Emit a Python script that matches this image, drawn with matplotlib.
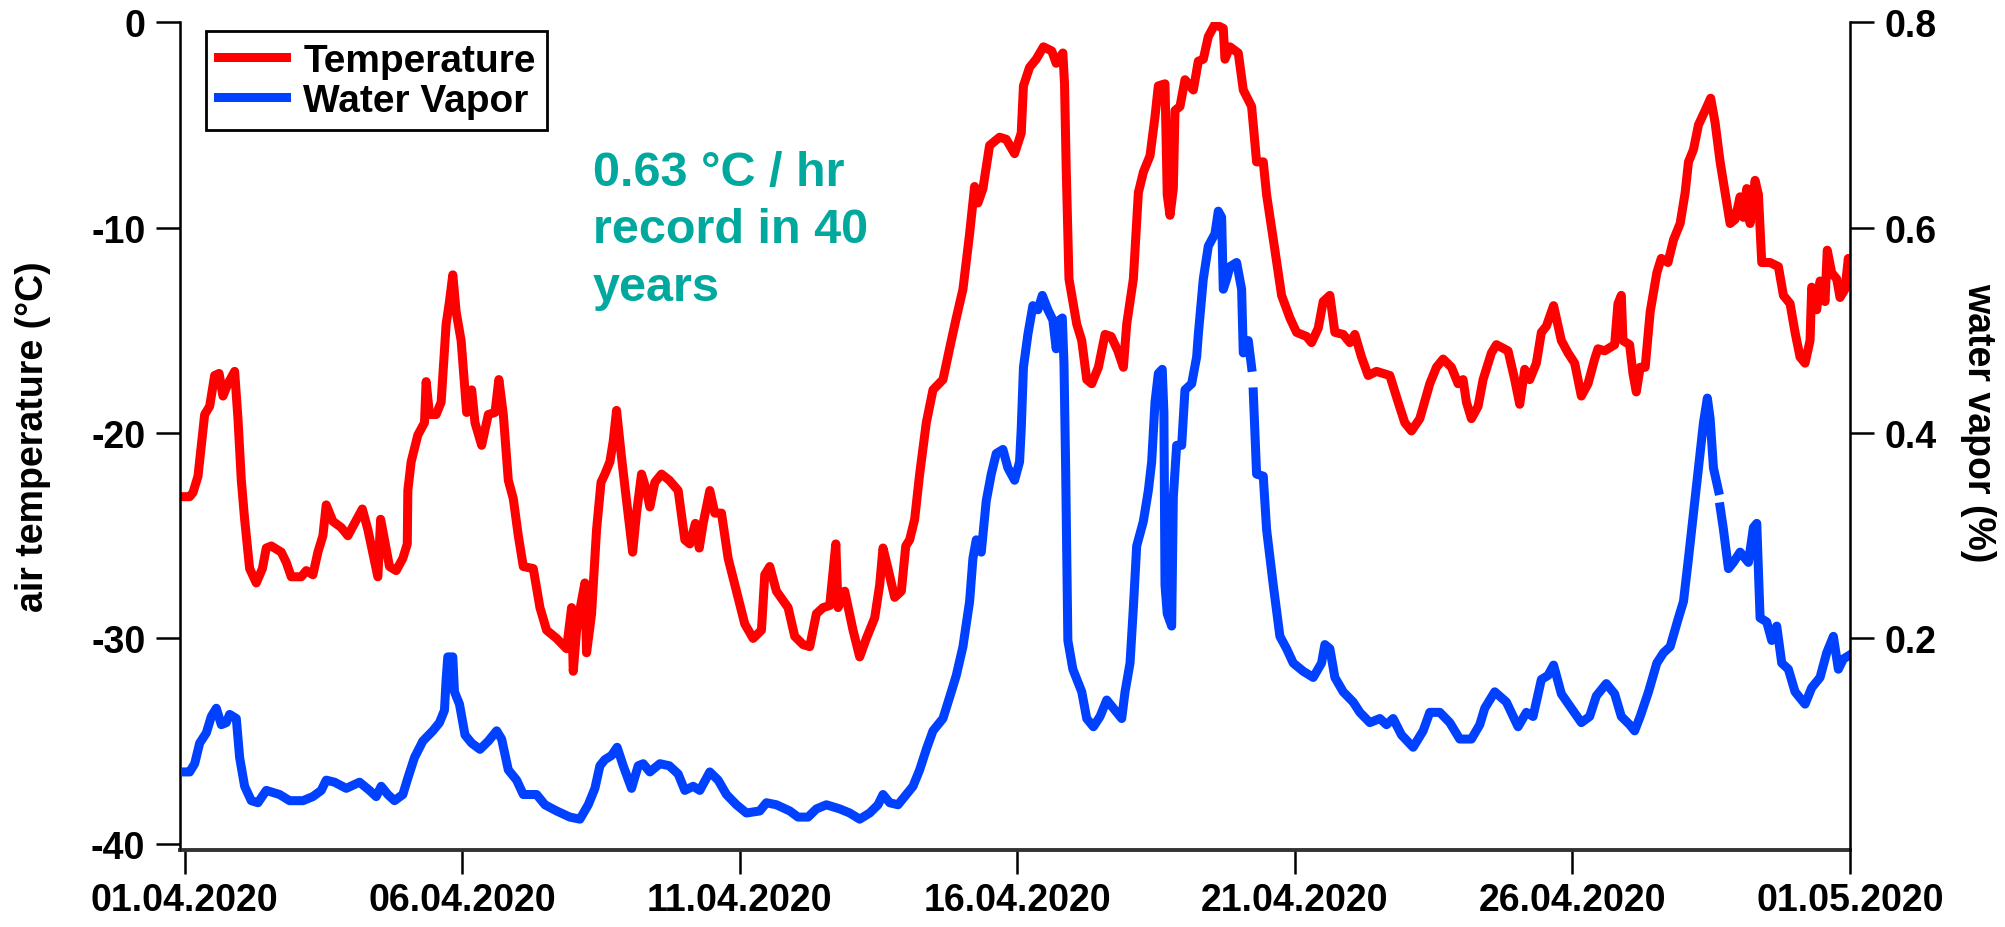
import numpy as np
import pandas as pd
import matplotlib
matplotlib.use("Agg")
import matplotlib.pyplot as plt
import matplotlib.dates as mdates

plt.rcParams['font.family'] = ['Liberation Sans', 'DejaVu Sans']
plt.rcParams['font.weight'] = 'bold'
plt.rcParams['axes.labelweight'] = 'bold'
plt.rcParams['axes.unicode_minus'] = False

start = pd.Timestamp('2020-04-01')

# air temperature (degC), days since 01.04.2020
temp_day = [0.00, 0.09, 0.15, 0.24, 0.30, 0.36, 0.45, 0.54, 0.62, 0.69, 0.78, 0.90, 0.96, 1.02, 1.08,
            1.17, 1.29, 1.40, 1.47, 1.56, 1.74, 1.83, 1.92, 2.10, 2.19, 2.31, 2.40, 2.49, 2.55, 2.67,
            2.82, 2.94, 3.06, 3.20, 3.30, 3.41, 3.48, 3.53, 3.60, 3.69, 3.81, 3.93, 4.01, 4.02, 4.08,
            4.20, 4.32, 4.35, 4.41, 4.53, 4.62, 4.71, 4.77, 4.83, 4.89, 4.98, 5.08, 5.17, 5.23, 5.35,
            5.47, 5.59, 5.66, 5.74, 5.83, 5.92, 6.01, 6.10, 6.28, 6.40, 6.52, 6.70, 6.88, 6.97, 7.00,
            7.06, 7.12, 7.21, 7.24, 7.33, 7.42, 7.50, 7.57, 7.66, 7.72, 7.78, 7.87, 7.96, 8.07, 8.14,
            8.23, 8.32, 8.38, 8.47, 8.59, 8.73, 8.89, 9.01, 9.10, 9.20, 9.27, 9.34, 9.46, 9.55, 9.67,
            9.79, 9.94, 10.09, 10.24, 10.39, 10.45, 10.54, 10.66, 10.87, 10.99, 11.14, 11.26, 11.38,
            11.50, 11.62, 11.73, 11.77, 11.89, 12.04, 12.16, 12.28, 12.43, 12.52, 12.58, 12.67, 12.79,
            12.91, 12.99, 13.06, 13.15, 13.24, 13.36, 13.48, 13.66, 13.81, 13.90, 14.02, 14.14, 14.23,
            14.29, 14.38, 14.50, 14.68, 14.80, 14.95, 15.07, 15.11, 15.22, 15.34, 15.47, 15.62, 15.70,
            15.82, 15.85, 15.88, 15.93, 16.07, 16.16, 16.25, 16.34, 16.46, 16.58, 16.69, 16.81, 16.91,
            16.97, 17.09, 17.18, 17.27, 17.39, 17.48, 17.54, 17.66, 17.70, 17.75, 17.81, 17.84, 17.93,
            18.02, 18.17, 18.26, 18.35, 18.44, 18.56, 18.71, 18.74, 18.83, 18.98, 19.07, 19.22, 19.31,
            19.43, 19.49, 19.64, 19.76, 19.91, 20.03, 20.21, 20.30, 20.42, 20.51, 20.63, 20.72, 20.87,
            20.99, 21.08, 21.20, 21.32, 21.47, 21.71, 21.86, 21.98, 22.10, 22.25, 22.43, 22.55, 22.67,
            22.82, 22.94, 23.03, 23.09, 23.18, 23.30, 23.39, 23.54, 23.63, 23.84, 23.96, 24.05, 24.14,
            24.23, 24.35, 24.44, 24.53, 24.66, 24.80, 24.92, 25.04, 25.16, 25.28, 25.40, 25.46, 25.58,
            25.76, 25.82, 25.88, 25.91, 26.03, 26.09, 26.15, 26.22, 26.31, 26.40, 26.52, 26.60, 26.72,
            26.82, 26.94, 27.03, 27.09, 27.18, 27.27, 27.39, 27.49, 27.57, 27.66, 27.75, 27.84, 27.93,
            28.02, 28.08, 28.14, 28.20, 28.29, 28.35, 28.41, 28.56, 28.71, 28.80, 28.92, 29.01, 29.10,
            29.19, 29.28, 29.31, 29.40, 29.46, 29.55, 29.59, 29.67, 29.76, 29.82, 29.91, 29.97, 30.00]
temp_c = [-23.1, -23.1, -22.9, -22.1, -20.6, -19.1, -18.7, -17.2, -17.1, -18.2, -17.6, -17.0, -19.3, -22.3, -24.2,
          -26.6, -27.3, -26.6, -25.6, -25.5, -25.8, -26.3, -27.0, -27.0, -26.7, -26.9, -25.8, -25.0, -23.5, -24.3,
          -24.6, -25.0, -24.4, -23.7, -24.7, -26.1, -27.0, -24.2, -25.2, -26.5, -26.7, -26.1, -25.4, -22.8, -21.4,
          -20.1, -19.5, -17.5, -19.1, -19.1, -18.5, -14.7, -13.6, -12.3, -14.1, -15.5, -19.0, -17.9, -19.5, -20.6,
          -19.1, -19.0, -17.4, -19.1, -22.3, -23.2, -25.0, -26.5, -26.6, -28.5, -29.6, -30.0, -30.5, -28.5, -31.6,
          -29.6, -28.6, -27.3, -30.7, -28.8, -24.7, -22.4, -22.0, -21.4, -20.4, -18.9, -21.2, -23.3, -25.8, -23.9,
          -22.0, -22.8, -23.6, -22.4, -22.0, -22.3, -22.8, -25.2, -25.4, -24.4, -25.6, -24.4, -22.8, -23.9, -23.9,
          -26.1, -27.7, -29.3, -30.0, -29.6, -26.9, -26.5, -27.7, -28.5, -29.9, -30.3, -30.4, -28.8,
          -28.5, -28.4, -25.4, -28.5, -27.7, -29.6, -30.9, -30.0, -29.0, -27.4, -25.6, -26.6, -28.0,
          -27.7, -25.5, -25.2, -24.2, -22.0, -19.5, -17.9, -17.4, -15.5, -14.4, -13.0, -10.3, -8.0,
          -8.8, -8.1, -6.0, -5.6, -5.7, -6.4, -5.4, -3.1, -2.2, -1.8, -1.2, -1.4, -2.0,
          -1.5, -3.0, -7.1, -12.5, -14.7, -15.5, -17.4, -17.6, -16.8, -15.2, -15.3, -16.0, -16.8,
          -14.7, -12.5, -8.3, -7.3, -6.5, -4.6, -3.1, -3.0, -8.4, -9.4, -8.1, -4.3, -4.1,
          -2.8, -3.3, -1.9, -1.8, -0.7, -0.1, -0.3, -1.8, -1.2, -1.5, -3.3, -4.1, -6.8,
          -6.8, -8.4, -11.1, -13.3, -14.4, -15.1, -15.3, -15.6, -14.9, -13.6, -13.3, -15.1, -15.2,
          -15.6, -15.2, -16.3, -17.2, -17.0, -17.2, -18.5, -19.5, -19.9, -19.3, -17.6, -16.8, -16.4,
          -16.8, -17.6, -17.4, -18.5, -19.3, -18.7, -17.4, -16.1, -15.7, -16.0, -17.4, -18.6, -16.9,
          -17.4, -16.6, -15.1, -14.8, -13.8, -15.5, -16.1, -16.6, -18.2, -17.6, -16.4, -15.9, -16.0,
          -15.7, -13.7, -13.3, -15.5, -15.7, -17.1, -18.0, -16.8, -16.8, -14.1, -12.2, -11.5, -11.7,
          -10.6, -9.8, -8.3, -6.8, -6.2, -5.0, -4.3, -3.7, -4.9, -6.8, -8.3, -9.8, -9.6,
          -8.5, -9.5, -8.1, -9.8, -7.7, -8.4, -11.7, -11.7, -11.9, -13.3, -13.7, -15.1, -16.3,
          -16.6, -15.5, -12.9, -14.0, -12.6, -13.6, -11.1, -12.2, -12.5, -13.4, -13.0, -11.5, -12.8]

# water vapor (%), days since 01.04.2020 (nan = gap in record)
wv_day = [0.00, 0.09, 0.18, 0.27, 0.39, 0.48, 0.57, 0.66, 0.75, 0.81, 0.93, 0.99, 1.08, 1.20, 1.32,
          1.47, 1.71, 1.89, 2.13, 2.31, 2.46, 2.55, 2.70, 2.91, 3.15, 3.33, 3.45, 3.54, 3.66, 3.78,
          3.93, 4.02, 4.14, 4.29, 4.47, 4.59, 4.68, 4.71, 4.74, 4.83, 4.86, 4.95, 5.05, 5.17, 5.32,
          5.47, 5.62, 5.71, 5.83, 5.98, 6.10, 6.22, 6.34, 6.49, 6.70, 6.94, 7.12, 7.27, 7.39, 7.48,
          7.57, 7.69, 7.79, 7.90, 8.05, 8.17, 8.26, 8.38, 8.56, 8.73, 8.89, 9.01, 9.16, 9.28, 9.46,
          9.61, 9.76, 9.94, 10.12, 10.36, 10.48, 10.66, 10.90, 11.05, 11.23, 11.38, 11.56, 11.80, 11.98,
          12.16, 12.34, 12.49, 12.58, 12.70, 12.85, 13.00, 13.12, 13.24, 13.36, 13.48, 13.66, 13.81,
          13.90, 14.02, 14.14, 14.20, 14.26, 14.35, 14.44, 14.53, 14.62, 14.74, 14.83, 14.95, 15.04,
          15.07, 15.11, 15.19, 15.28, 15.37, 15.45, 15.55, 15.64, 15.70, 15.76, 15.81, 15.84, 15.87,
          15.91, 16.00, 16.16, 16.25, 16.37, 16.49, 16.61, 16.73, 16.88, 16.94, 17.03, 17.09, 17.15,
          17.27, 17.36, 17.42, 17.48, 17.54, 17.61, 17.64, 17.66, 17.70, 17.78, 17.81, 17.87, 17.96,
          18.02, 18.14, 18.23, 18.26, 18.35, 18.44, 18.56, 18.62, 18.68, 18.71, 18.77, 18.83, 18.95,
          19.04, 19.07, 19.16, 19.22, 19.235, 19.25, 19.31, 19.43, 19.49, 19.61, 19.73, 19.85, 19.97,
          20.15, 20.33, 20.48, 20.54, 20.63, 20.72, 20.87, 21.05, 21.17, 21.35, 21.53, 21.65, 21.77,
          21.92, 22.13, 22.31, 22.43, 22.61, 22.79, 22.97, 23.18, 23.33, 23.42, 23.60, 23.81, 24.02,
          24.17, 24.29, 24.44, 24.56, 24.66, 24.80, 24.98, 25.16, 25.31, 25.43, 25.61, 25.76, 25.88,
          26.03, 26.12, 26.22, 26.37, 26.52, 26.64, 26.76, 26.91, 27.00, 27.09, 27.18, 27.27, 27.36,
          27.43, 27.48, 27.54, 27.63, 27.645, 27.66, 27.72, 27.81, 27.90, 28.02, 28.17, 28.26, 28.32,
          28.38, 28.50, 28.59, 28.68, 28.77, 28.89, 29.01, 29.19, 29.31, 29.46, 29.58, 29.70, 29.79,
          29.88, 30.00]
wv_pct = [0.070, 0.070, 0.078, 0.098, 0.108, 0.124, 0.132, 0.116, 0.118, 0.126, 0.122, 0.084, 0.056, 0.042, 0.040,
          0.052, 0.048, 0.042, 0.042, 0.046, 0.052, 0.062, 0.060, 0.054, 0.060, 0.052, 0.046, 0.056, 0.048, 0.042,
          0.048, 0.064, 0.084, 0.100, 0.110, 0.118, 0.130, 0.160, 0.182, 0.182, 0.148, 0.136, 0.106, 0.098, 0.092,
          0.100, 0.110, 0.102, 0.072, 0.062, 0.048, 0.048, 0.048, 0.038, 0.032, 0.026, 0.024, 0.038, 0.054, 0.076,
          0.082, 0.086, 0.094, 0.076, 0.054, 0.076, 0.078, 0.070, 0.078, 0.076, 0.068, 0.052, 0.056, 0.052, 0.070,
          0.062, 0.048, 0.038, 0.030, 0.032, 0.040, 0.038, 0.032, 0.026, 0.026, 0.034, 0.038, 0.034, 0.030,
          0.024, 0.030, 0.038, 0.048, 0.040, 0.038, 0.048, 0.056, 0.072, 0.092, 0.110, 0.122, 0.148,
          0.164, 0.192, 0.236, 0.278, 0.296, 0.284, 0.334, 0.360, 0.380, 0.384, 0.366, 0.354, 0.372,
          0.404, 0.464, 0.496, 0.524, 0.520, 0.534, 0.520, 0.510, 0.482, 0.510, 0.512, 0.468, 0.366,
          0.198, 0.170, 0.148, 0.122, 0.114, 0.124, 0.140, 0.132, 0.122, 0.148, 0.176, 0.230, 0.290,
          0.314, 0.344, 0.372, 0.430, 0.458, 0.462, 0.420, 0.252, 0.224, 0.212, 0.338, 0.388, 0.388,
          0.442, 0.448, 0.474, 0.496, 0.550, 0.582, 0.594, 0.616, 0.610, 0.540, 0.550, 0.562, 0.566,
          0.540, 0.478, 0.490, 0.464, np.nan, 0.440, 0.360, 0.358, 0.306, 0.252, 0.202, 0.190, 0.176,
          0.168, 0.162, 0.176, 0.194, 0.190, 0.162, 0.148, 0.138, 0.128, 0.118, 0.122, 0.116, 0.122,
          0.106, 0.094, 0.110, 0.128, 0.128, 0.118, 0.102, 0.102, 0.116, 0.132, 0.148, 0.138, 0.114,
          0.128, 0.124, 0.160, 0.164, 0.174, 0.146, 0.132, 0.118, 0.124, 0.144, 0.156, 0.146, 0.124,
          0.116, 0.110, 0.124, 0.148, 0.176, 0.186, 0.192, 0.220, 0.236, 0.278, 0.322, 0.366, 0.410,
          0.434, 0.414, 0.366, 0.344, np.nan, 0.328, 0.306, 0.268, 0.274, 0.284, 0.274, 0.308, 0.312,
          0.220, 0.216, 0.198, 0.212, 0.176, 0.170, 0.148, 0.136, 0.152, 0.162, 0.186, 0.202, 0.170,
          0.180, 0.184]

temp_ticks = [0, -10, -20, -30, -40]
wv_ticks = [0.2, 0.4, 0.6, 0.8]
note = "0.63 °C / hr\nrecord in 40\nyears"

t_time = start + pd.to_timedelta(temp_day, unit='D')
w_time = start + pd.to_timedelta(wv_day, unit='D')

fig = plt.figure(figsize=(20.05, 9.28), dpi=100)
ax = fig.add_axes([0.0898, 0.083, 0.8329, 0.892])
ax2 = ax.twinx()

l1, = ax.plot(t_time, temp_c, color='#ff0000', lw=6.5, label='Temperature')
l2, = ax2.plot(w_time, wv_pct, color='#0040ff', lw=6.5, label='Water Vapor')

ax.set_ylim(-40.3, 0)
ax2.set_ylim(-0.006, 0.8)
ax.set_xlim(start - pd.Timedelta(hours=2), start + pd.Timedelta(days=30))

ax.set_yticks(temp_ticks)
ax2.set_yticks(wv_ticks)
ax2.set_yticklabels(['%.1f' % v for v in wv_ticks])

ax.xaxis.set_major_locator(mdates.DayLocator(bymonthday=[1, 6, 11, 16, 21, 26]))
ax.xaxis.set_major_formatter(mdates.DateFormatter('%d.%m.%Y'))

for a in (ax, ax2):
    a.spines['top'].set_visible(False)
    a.tick_params(direction='out', length=17, width=1.8, labelsize=27)
ax.spines['left'].set_linewidth(1.8)
ax2.spines['right'].set_linewidth(1.8)
ax.spines['bottom'].set_linewidth(2.8)
ax.spines['bottom'].set_color('#333333')
ax2.spines['bottom'].set_visible(False)
ax.tick_params(axis='x', pad=6)
ax.tick_params(axis='y', pad=8)
ax2.tick_params(axis='y', pad=8)

ax.set_ylabel('air temperature (°C)', fontsize=27, ha='center', va='center')
ax.yaxis.set_label_coords(-0.088, 0.5)
ax2.set_ylabel('water vapor (%)', fontsize=27, rotation=270, ha='center', va='center')
ax2.yaxis.set_label_coords(1.077, 0.518)

ax.text(0.247, 0.846, note, transform=ax.transAxes, color='#00a89d', fontsize=35,
        fontweight='bold', va='top', linespacing=1.36)

leg = ax2.legend(handles=[l1, l2], loc='upper left',
                 bbox_to_anchor=(206 / 2005, 1 - 32 / 928), bbox_transform=fig.transFigure,
                 borderaxespad=0, fontsize=28, handlelength=1.75, handletextpad=0.45,
                 borderpad=0.3, labelspacing=0.1, fancybox=False, framealpha=1)
leg.get_frame().set_edgecolor('black')
leg.get_frame().set_linewidth(2)

fig.savefig('out.png', dpi=100)
